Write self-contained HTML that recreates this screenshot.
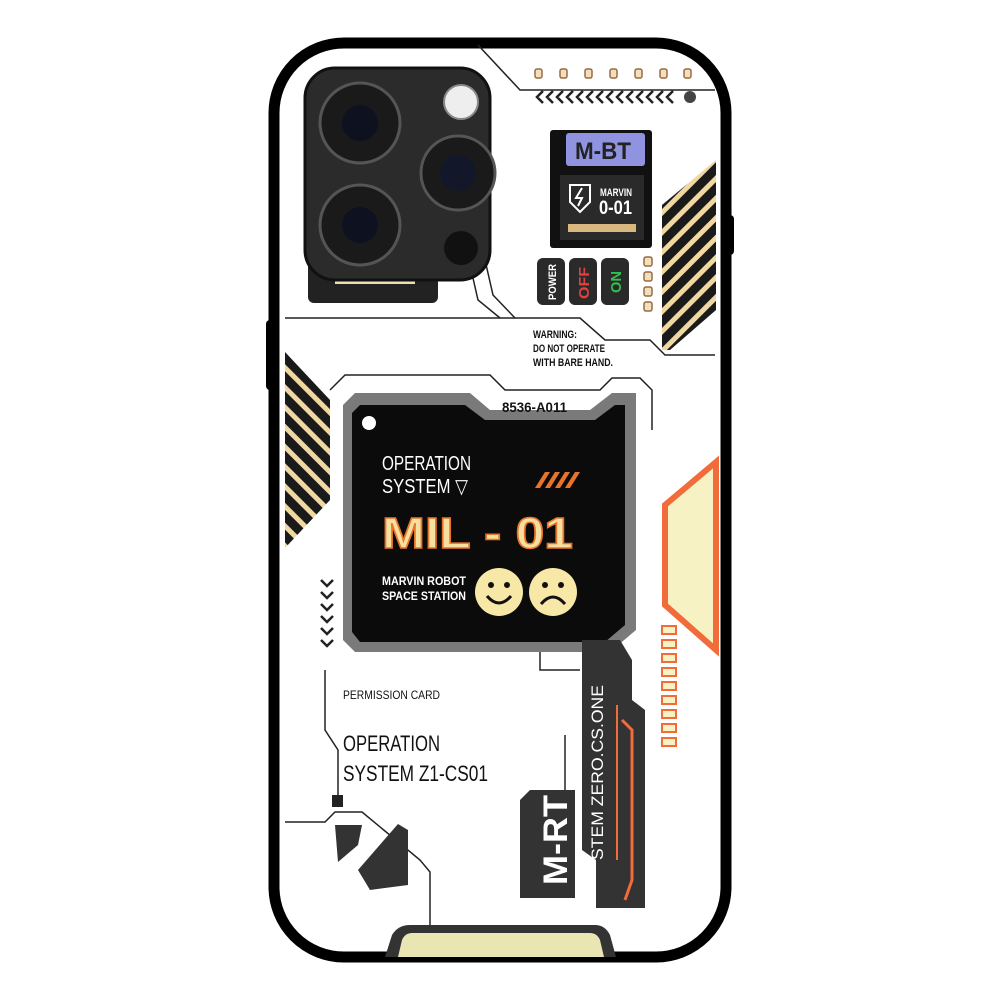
<!DOCTYPE html>
<html><head><style>
html,body{margin:0;padding:0;background:#fff;}
svg{display:block}
text{font-family:"Liberation Sans",sans-serif;}
</style></head><body>
<svg width="1000" height="1000" viewBox="0 0 1000 1000" xmlns="http://www.w3.org/2000/svg">
<rect width="1000" height="1000" fill="#fff"/>
<rect x="266" y="320" width="14" height="70" rx="4" fill="#000"/>
<rect x="720" y="215" width="14" height="40" rx="4" fill="#000"/>
<rect x="274" y="43" width="452" height="914" rx="70" fill="#fff" stroke="#000" stroke-width="11"/>
<g fill="none" stroke="#222" stroke-width="1.5">
<path d="M478 45 L520 90 L715 90"/>
<path d="M285 318 L580 318 L605 340 L650 340 L665 355 L715 355"/>
<path d="M330 390 L345 375 L490 375 L505 390 L600 390 L612 378 L640 378 L652 390 L652 430"/>
<path d="M285 822 L325 822 L335 812 L362 812 L420 860 L430 872 L430 925"/>
<path d="M325 670 L325 730 L338 750 L338 800"/>
<path d="M540 650 L540 670 L580 670"/>
<path d="M565 735 L565 840"/>
<path d="M470 265 L478 300 L500 318"/>
<path d="M485 260 L493 295 L515 318"/>
</g>
<g fill="#f0e0c0" stroke="#9a6a40" stroke-width="1.5">
<rect x="535" y="69" width="7" height="9" rx="2"/><rect x="560" y="69" width="7" height="9" rx="2"/><rect x="585" y="69" width="7" height="9" rx="2"/><rect x="610" y="69" width="7" height="9" rx="2"/><rect x="635" y="69" width="7" height="9" rx="2"/><rect x="660" y="69" width="7" height="9" rx="2"/><rect x="684" y="69" width="7" height="9" rx="2"/>
<rect x="644" y="257" width="8" height="9" rx="2"/><rect x="644" y="272" width="8" height="9" rx="2"/><rect x="644" y="287" width="8" height="9" rx="2"/><rect x="644" y="302" width="8" height="9" rx="2"/>
</g>
<g fill="none" stroke="#222" stroke-width="2.5">
<path d="M543 91 l-6 6 l6 6 M553 91 l-6 6 l6 6 M563 91 l-6 6 l6 6 M573 91 l-6 6 l6 6 M583 91 l-6 6 l6 6 M593 91 l-6 6 l6 6 M603 91 l-6 6 l6 6 M613 91 l-6 6 l6 6 M623 91 l-6 6 l6 6 M633 91 l-6 6 l6 6 M643 91 l-6 6 l6 6 M653 91 l-6 6 l6 6 M663 91 l-6 6 l6 6 M673 91 l-6 6 l6 6"/>
<path d="M321 580 l6 6 l6 -6 M321 592 l6 6 l6 -6 M321 604 l6 6 l6 -6 M321 616 l6 6 l6 -6 M321 628 l6 6 l6 -6 M321 640 l6 6 l6 -6"/>
</g>
<circle cx="690" cy="97" r="6" fill="#444"/>
<rect x="308" y="255" width="130" height="48" rx="6" fill="#222"/>
<rect x="335" y="278" width="80" height="6" fill="#e8e0b0"/>
<rect x="305" y="68" width="185" height="212" rx="30" fill="#2b2b2b" stroke="#111" stroke-width="3"/>
<circle cx="360" cy="123" r="40" fill="#1a1a1a" stroke="#555" stroke-width="3"/><circle cx="360" cy="123" r="18" fill="#0e1220"/>
<circle cx="458" cy="173" r="37" fill="#1a1a1a" stroke="#555" stroke-width="3"/><circle cx="458" cy="173" r="18" fill="#12182a"/>
<circle cx="360" cy="225" r="40" fill="#1a1a1a" stroke="#555" stroke-width="3"/><circle cx="360" cy="225" r="18" fill="#0e1220"/>
<circle cx="461" cy="102" r="17" fill="#eee" stroke="#888" stroke-width="2"/>
<circle cx="461" cy="248" r="17" fill="#111"/>
<rect x="550" y="130" width="102" height="118" rx="3" fill="#111"/>
<rect x="566" y="133" width="79" height="33" rx="3" fill="#8f93e0"/>
<text x="575" y="159" font-size="24" font-weight="bold" fill="#222" textLength="56" lengthAdjust="spacingAndGlyphs">M-BT</text>
<rect x="560" y="175" width="84" height="65" fill="#2a2a2a"/>
<path d="M570 185 L590 185 L590 202 L580 212 L570 202 Z" fill="none" stroke="#fff" stroke-width="2"/>
<path d="M582 188 L576 198 L582 198 L578 206" stroke="#fff" stroke-width="2" fill="none"/>
<text x="600" y="196" font-size="11" font-weight="bold" fill="#fff" textLength="32" lengthAdjust="spacingAndGlyphs">MARVIN</text>
<text x="599" y="214" font-size="19" font-weight="bold" fill="#fff" textLength="33" lengthAdjust="spacingAndGlyphs">0-01</text>
<rect x="568" y="224" width="68" height="8" fill="#d9b880"/>
<rect x="537" y="258" width="28" height="47" rx="6" fill="#2a2a2a"/>
<rect x="569" y="258" width="28" height="47" rx="6" fill="#2a2a2a"/>
<rect x="601" y="258" width="28" height="47" rx="6" fill="#2a2a2a"/>
<text transform="translate(556,300) rotate(-90)" font-size="11" font-weight="bold" fill="#fff" textLength="36" lengthAdjust="spacingAndGlyphs">POWER</text>
<text transform="translate(589,299) rotate(-90)" font-size="15" font-weight="bold" fill="#e04040" textLength="32" lengthAdjust="spacingAndGlyphs">OFF</text>
<text transform="translate(621,293) rotate(-90)" font-size="15" font-weight="bold" fill="#30c050" textLength="22" lengthAdjust="spacingAndGlyphs">ON</text>
<text font-size="11" font-weight="bold" fill="#111"><tspan x="533" y="338" textLength="44" lengthAdjust="spacingAndGlyphs">WARNING:</tspan><tspan x="533" y="352" textLength="72" lengthAdjust="spacingAndGlyphs">DO NOT OPERATE</tspan><tspan x="533" y="366" textLength="80" lengthAdjust="spacingAndGlyphs">WITH BARE HAND.</tspan></text>
<defs>
<pattern id="st" width="14" height="14" patternUnits="userSpaceOnUse" patternTransform="rotate(-45)">
<rect width="14" height="14" fill="#1a1a1a"/><rect width="14" height="5" fill="#f0d8a0"/>
</pattern>
<pattern id="st2" width="14" height="14" patternUnits="userSpaceOnUse" patternTransform="rotate(45)">
<rect width="14" height="14" fill="#1a1a1a"/><rect width="14" height="5" fill="#f0d8a0"/>
</pattern>
</defs>
<path d="M662 205 L716 160 L716 310 L670 350 L662 350 Z" fill="url(#st)"/>
<path d="M285 352 L330 400 L330 500 L285 548 Z" fill="url(#st2)"/>
<path d="M716 462 L665 505 L665 605 L716 650 Z" fill="#f7f2c4" stroke="#f26b3a" stroke-width="6"/>
<g fill="#f7f2c4" stroke="#f26b3a" stroke-width="2">
<rect x="662" y="626" width="14" height="8"/><rect x="662" y="640" width="14" height="8"/><rect x="662" y="654" width="14" height="8"/><rect x="662" y="668" width="14" height="8"/><rect x="662" y="682" width="14" height="8"/><rect x="662" y="696" width="14" height="8"/><rect x="662" y="710" width="14" height="8"/><rect x="662" y="724" width="14" height="8"/><rect x="662" y="738" width="14" height="8"/>
</g>
<path d="M355 393 L470 393 L490 410 L590 410 L612 393 L636 393 L636 630 L610 652 L355 652 L343 640 L343 405 Z" fill="#7a7a7a"/>
<path d="M360 405 L465 405 L485 420 L595 420 L615 405 L625 405 L625 625 L605 642 L360 642 L352 632 L352 413 Z" fill="#0b0b0b"/>
<text x="502" y="412" font-size="14" font-weight="bold" fill="#111" textLength="65" lengthAdjust="spacingAndGlyphs">8536-A011</text>
<circle cx="369" cy="423" r="7" fill="#fff"/>
<text x="382" y="470" font-size="20" fill="#fff" textLength="89" lengthAdjust="spacingAndGlyphs">OPERATION</text>
<text x="382" y="493" font-size="20" fill="#fff" textLength="86" lengthAdjust="spacingAndGlyphs">SYSTEM ▽</text>
<g fill="#e8742c"><path d="M535 488 l10 -16 h5 l-10 16 Z M545 488 l10 -16 h5 l-10 16 Z M555 488 l10 -16 h5 l-10 16 Z M565 488 l10 -16 h5 l-10 16 Z"/></g>
<text x="382" y="548" font-size="44" font-weight="bold" fill="#f5e0a0" stroke="#e8742c" stroke-width="1.5" textLength="191" lengthAdjust="spacingAndGlyphs">MIL - 01</text>
<text x="382" y="585" font-size="12" font-weight="bold" fill="#fff" textLength="84" lengthAdjust="spacingAndGlyphs">MARVIN ROBOT</text>
<text x="382" y="600" font-size="12" font-weight="bold" fill="#fff" textLength="84" lengthAdjust="spacingAndGlyphs">SPACE STATION</text>
<circle cx="499" cy="592" r="24" fill="#f7e8a8"/><circle cx="553" cy="592" r="24" fill="#f7e8a8"/>
<g stroke="#111" stroke-width="3" fill="none"><path d="M487 596 Q499 610 511 596"/><path d="M541 604 Q553 590 565 604"/></g>
<circle cx="491" cy="585" r="3" fill="#111"/><circle cx="507" cy="585" r="3" fill="#111"/><circle cx="545" cy="585" r="3" fill="#111"/><circle cx="561" cy="585" r="3" fill="#111"/>
<text x="343" y="699" font-size="12" fill="#111" textLength="97" lengthAdjust="spacingAndGlyphs">PERMISSION CARD</text>
<text x="343" y="751" font-size="22" fill="#111" textLength="97" lengthAdjust="spacingAndGlyphs">OPERATION</text>
<text x="343" y="781" font-size="22" fill="#111" textLength="145" lengthAdjust="spacingAndGlyphs">SYSTEM Z1-CS01</text>
<rect x="332" y="795" width="11" height="12" fill="#222"/>
<path d="M335 825 L362 825 L358 845 L338 862 Z" fill="#333"/>
<path d="M398 824 L408 830 L408 885 L370 890 L358 870 Z" fill="#333"/>
<path d="M582 640 L620 640 L632 660 L632 700 L645 710 L645 908 L596 908 L596 860 L582 850 Z" fill="#333"/>
<path d="M622 720 L632 730 L632 880 L625 900" stroke="#f26b3a" stroke-width="3" fill="none"/>
<line x1="617" y1="705" x2="617" y2="860" stroke="#f26b3a" stroke-width="2"/>
<text transform="translate(603,860) rotate(-90)" font-size="17" fill="#fff" textLength="175" lengthAdjust="spacingAndGlyphs">STEM ZERO.CS.ONE</text>
<path d="M530 790 L575 790 L575 898 L520 898 L520 800 Z" fill="#333"/>
<text transform="translate(567,885) rotate(-90)" font-size="34" font-weight="bold" fill="#fff" textLength="90" lengthAdjust="spacingAndGlyphs">M-RT</text>
<path d="M385 957 L392 935 Q398 925 410 925 L595 925 Q605 925 610 935 L616 957 Z" fill="#333"/>
<path d="M398 957 L402 940 Q405 933 412 933 L590 933 Q597 933 600 940 L604 957 Z" fill="#e9e6b4"/>
</svg>
</body></html>
